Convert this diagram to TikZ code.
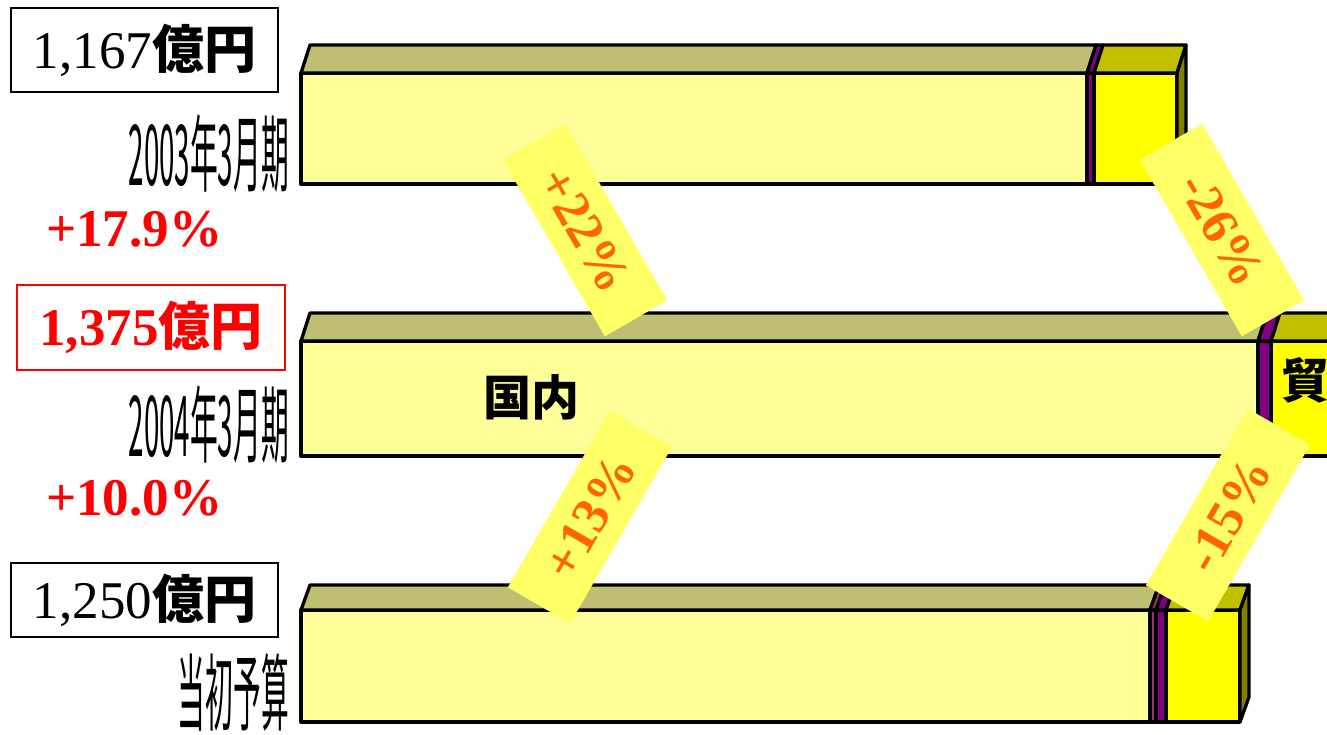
\documentclass[tikz,border=0pt]{standalone}
\usepackage{fontspec}
\setmainfont{Liberation Serif}
\newfontfamily\cjk{Noto Sans CJK JP}
\definecolor{pale}{HTML}{FFFF99}
\definecolor{paletop}{HTML}{BFBF73}
\definecolor{yel}{HTML}{FFFF00}
\definecolor{yeltop}{HTML}{C0C000}
\definecolor{sidec}{HTML}{808000}
\definecolor{purp}{HTML}{800080}
\definecolor{pinkc}{HTML}{993366}
\definecolor{note}{HTML}{FFFF66}
\definecolor{orng}{HTML}{FF6600}
\newcommand\barseg[7]{% x1 x2 ytop ybot depth front top
  \draw[barline, fill=#6] (#1,#3) rectangle (#2,#4);
  \draw[barline, fill=#7] (#1,#3) -- ++(9,-#5) -- ++(#2-#1,0) -- (#2,#3) -- cycle;}
\newcommand\barside[4]{% x ytop ybot depth
  \draw[barline, fill=sidec] (#1,#2) -- ++(9,-#4) -- ++(0,#3-#2) -- (#1,#3) -- cycle;}
\tikzset{
  barline/.style={line width=3.3pt, line join=round},
  notebox/.style={fill=note, minimum width=204pt, minimum height=72pt, inner sep=0pt,
    text=orng, font=\bfseries\fontsize{52}{52}\selectfont},
  valbox/.style={draw, line width=1.3pt, inner sep=0pt},
  period/.style={anchor=east, inner sep=0pt},
  growth/.style={anchor=base west, inner sep=0pt, text=red, font=\bfseries\fontsize{53}{53}\selectfont},
  cat/.style={inner sep=0pt, font=\cjk\bfseries\fontsize{48}{48}\selectfont}
}
\begin{document}
\begin{tikzpicture}[x=1pt,y=-1pt]
\clip (0,0) rectangle (1327,734);
\fill[white] (0,0) rectangle (1327,734);
% bar 1 (2003)
\barseg{301}{1087}{73}{184}{28}{pale}{paletop}
\barseg{1087}{1094}{73}{184}{28}{purp}{purp}
\barseg{1094}{1177}{73}{184}{28}{yel}{yeltop}
\barside{1177}{73}{184}{28}
% bar 2 (2004)
\barseg{301}{1258}{341}{456}{28}{pale}{paletop}
\barseg{1258}{1271}{341}{456}{28}{purp}{purp}
\barseg{1271}{1400}{341}{456}{28}{yel}{yeltop}
% bar 3 (budget)
\barseg{301}{1150}{610}{722}{25}{pale}{paletop}
\barseg{1150}{1156}{610}{722}{25}{pinkc}{pinkc}
\barseg{1156}{1166}{610}{722}{25}{purp}{purp}
\barseg{1166}{1240}{610}{722}{25}{yel}{yeltop}
\barside{1240}{610}{722}{25}
% category labels
\node[cat] (dom) at (531,397) {国内};
\node[cat, anchor=west] (trade) at (1281,380) {貿};
% value boxes
\node[valbox, minimum width=267pt, minimum height=84pt] (v1) at (144.5,50)
  {\fontsize{53}{53}\selectfont 1,167{\cjk\bfseries\fontsize{52}{52}\selectfont 億円}};
\node[valbox, draw=red, text=red, minimum width=268pt, minimum height=85pt] (v2) at (151,327.5)
  {\bfseries\fontsize{53}{53}\selectfont 1,375{\cjk\bfseries\fontsize{52}{52}\selectfont 億円}};
\node[valbox, minimum width=267pt, minimum height=74pt] (v3) at (144.5,600)
  {\fontsize{53}{53}\selectfont 1,250{\cjk\bfseries\fontsize{52}{52}\selectfont 億円}};
% period labels
\node[period] (p1) at (289,154) {\scalebox{0.33}[1]{\cjk\fontsize{84}{84}\selectfont 2003年3月期}};
\node[period] (p2) at (289,425) {\scalebox{0.33}[1]{\cjk\fontsize{84}{84}\selectfont 2004年3月期}};
\node[period] (p3) at (289,692) {\scalebox{0.33}[1]{\cjk\fontsize{84}{84}\selectfont 当初予算}};
% growth rates
\node[growth] (g1) at (46,246) {+17.9\%};
\node[growth] (g2) at (46,515) {+10.0\%};
% change notes
\node[notebox, rotate=-60] (n1) at (585,230) {+22\%};
\node[notebox, rotate=-60] (n2) at (1222,230) {-26\%};
\node[notebox, rotate=60] (n3) at (590,517) {+13\%};
\node[notebox, rotate=60] (n4) at (1228,515) {-15\%};
\end{tikzpicture}
\end{document}
